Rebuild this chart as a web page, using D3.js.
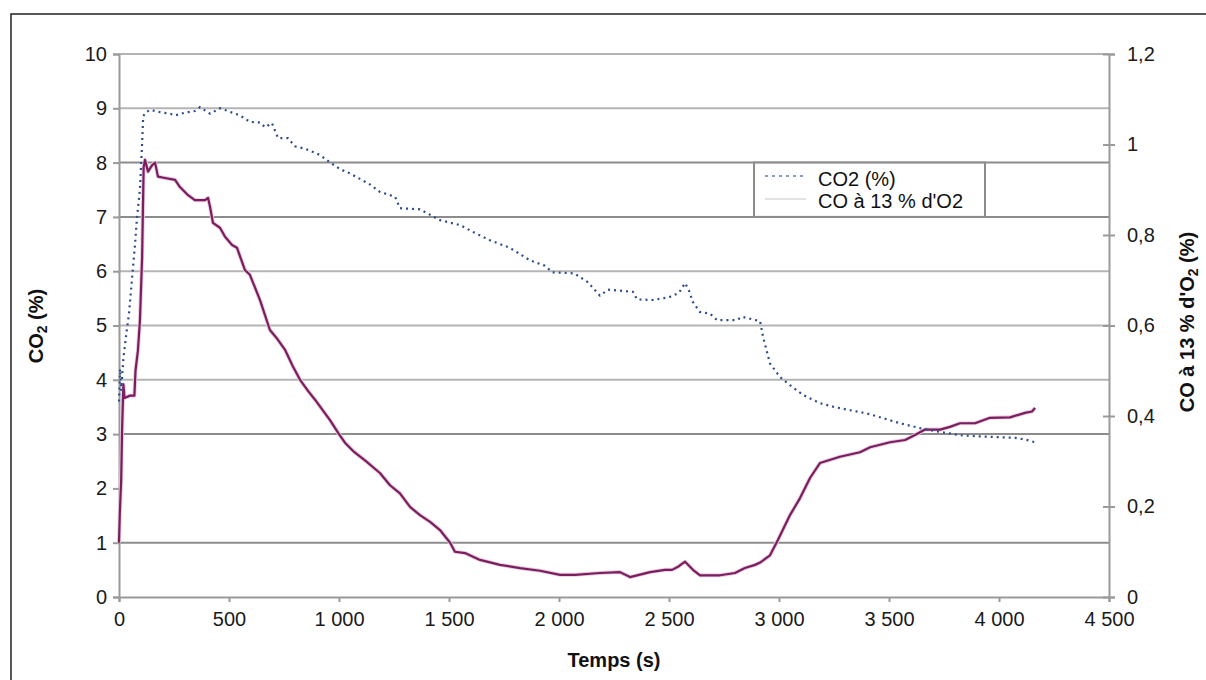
<!DOCTYPE html>
<html>
<head>
<meta charset="utf-8">
<script src="https://cdn.jsdelivr.net/npm/d3@7"></script>
<style>
  html, body { margin: 0; padding: 0; background: #fff; }
  svg { display: block; font-family: "Liberation Sans", Arial, Helvetica, sans-serif; }
</style>
</head>
<body>
<svg id="chart" width="1206" height="680"></svg>
<script>
// ---------- DATA ----------
const co2Time = [0, 5, 10, 20, 35, 45, 60, 73, 82, 95, 105, 110, 120, 141, 186, 232, 255, 300, 345, 368, 414, 459, 495, 550, 595, 641, 664, 695, 723, 768, 800, 850, 914, 960, 1005, 1050, 1095, 1140, 1186, 1255, 1277, 1368, 1459, 1550, 1620, 1686, 1777, 1868, 1936, 1970, 2070, 2130, 2186, 2223, 2336, 2355, 2427, 2500, 2545, 2573, 2590, 2609, 2640, 2686, 2718, 2809, 2832, 2914, 2927, 2959, 3005, 3050, 3110, 3186, 3250, 3323, 3400, 3459, 3550, 3641, 3732, 3823, 3900, 3959, 4073, 4120, 4164];
const co2Values = [3.6, 4.2, 3.8, 4.4, 4.9, 5.2, 5.9, 6.5, 7.0, 7.5, 8.35, 8.85, 8.92, 8.97, 8.93, 8.9, 8.87, 8.92, 8.95, 9.02, 8.9, 9.0, 8.95, 8.87, 8.75, 8.74, 8.65, 8.73, 8.45, 8.45, 8.3, 8.25, 8.14, 8.0, 7.88, 7.8, 7.7, 7.6, 7.46, 7.37, 7.16, 7.14, 6.94, 6.85, 6.7, 6.57, 6.43, 6.2, 6.1, 5.98, 5.96, 5.8, 5.55, 5.66, 5.62, 5.48, 5.47, 5.52, 5.6, 5.78, 5.65, 5.43, 5.25, 5.22, 5.1, 5.1, 5.16, 5.08, 4.8, 4.3, 4.05, 3.9, 3.72, 3.57, 3.5, 3.44, 3.38, 3.31, 3.2, 3.11, 3.04, 2.98, 2.96, 2.95, 2.93, 2.9, 2.85];

const coTime = [0, 4, 10, 14, 20, 25, 50, 70, 75, 86, 95, 105, 112, 118, 132, 150, 164, 177, 209, 255, 277, 314, 345, 391, 405, 414, 427, 459, 482, 514, 536, 573, 595, 641, 686, 720, 755, 790, 823, 860, 891, 930, 959, 1000, 1027, 1070, 1118, 1186, 1232, 1277, 1323, 1368, 1414, 1459, 1505, 1527, 1573, 1641, 1732, 1823, 1914, 2005, 2073, 2186, 2277, 2323, 2414, 2482, 2514, 2545, 2573, 2609, 2641, 2732, 2800, 2845, 2891, 2914, 2959, 2995, 3050, 3095, 3141, 3186, 3277, 3368, 3414, 3505, 3573, 3618, 3664, 3732, 3777, 3823, 3891, 3959, 4050, 4118, 4150, 4164];
const coValues = [0.12, 0.19, 0.26, 0.37, 0.47, 0.44, 0.445, 0.445, 0.50, 0.545, 0.61, 0.75, 0.95, 0.966, 0.94, 0.954, 0.96, 0.929, 0.926, 0.922, 0.906, 0.888, 0.877, 0.877, 0.882, 0.862, 0.827, 0.816, 0.796, 0.778, 0.772, 0.722, 0.712, 0.656, 0.590, 0.57, 0.546, 0.51, 0.48, 0.455, 0.436, 0.41, 0.391, 0.36, 0.341, 0.32, 0.302, 0.274, 0.247, 0.229, 0.199, 0.181, 0.166, 0.148, 0.12, 0.10, 0.097, 0.082, 0.071, 0.064, 0.058, 0.049, 0.049, 0.053, 0.055, 0.044, 0.055, 0.06, 0.06, 0.068, 0.078, 0.06, 0.048, 0.048, 0.053, 0.064, 0.071, 0.076, 0.092, 0.126, 0.181, 0.218, 0.263, 0.296, 0.31, 0.32, 0.331, 0.342, 0.347, 0.358, 0.37, 0.37, 0.376, 0.384, 0.384, 0.396, 0.397, 0.407, 0.41, 0.418];

const xTicks = [0, 500, 1000, 1500, 2000, 2500, 3000, 3500, 4000, 4500];
const leftTicks = [0, 1, 2, 3, 4, 5, 6, 7, 8, 9, 10];
const rightTicks = [0, 0.2, 0.4, 0.6, 0.8, 1, 1.2];
const gridValues = [1, 3, 4, 5, 6, 7, 8, 9, 10];
const seriesNames = ["CO2 (%)", "CO à 13 % d'O2"];

// ---------- LAYOUT ----------
const svg = d3.select("#chart");
const M = { left: 119, right: 1109, top: 54, bottom: 597 };
const locale = d3.formatLocale({ decimal: ",", thousands: " ", grouping: [3], currency: ["", ""] });

const x = d3.scaleLinear().domain([0, 4500]).range([M.left, M.right]);
const yL = d3.scaleLinear().domain([0, 10]).range([M.bottom, M.top]);
const yR = d3.scaleLinear().domain([0, 1.2]).range([M.bottom, M.top]);

// outer frame
svg.append("rect").attr("x", 11).attr("y", 14).attr("width", 1210).attr("height", 690)
  .attr("fill", "none").attr("stroke", "#222").attr("stroke-width", 1.5);

// gridlines
svg.append("g").selectAll("line").data(gridValues).join("line")
  .attr("x1", M.left).attr("x2", M.right)
  .attr("y1", d => yL(d)).attr("y2", d => yL(d))
  .attr("stroke", (d) => [1, 3, 7, 8].includes(d) ? "#8c8c8c" : "#b4b4b4")
  .attr("stroke-width", 2);

// axes
const axisColor = "#9a9a9a";
const tickFont = 20;

const gx = svg.append("g").attr("transform", `translate(0,${M.bottom})`)
  .call(d3.axisBottom(x).tickValues(xTicks).tickFormat(locale.format(",d")).tickSize(5).tickPadding(10));
const gl = svg.append("g").attr("transform", `translate(${M.left},0)`)
  .call(d3.axisLeft(yL).tickValues(leftTicks).tickFormat(d3.format("d")).tickSize(6).tickPadding(6));
const gr = svg.append("g").attr("transform", `translate(${M.right},0)`)
  .call(d3.axisRight(yR).tickValues(rightTicks).tickFormat(locale.format(".1~f")).tickSize(6).tickPadding(12));
gr.selectAll(".tick line").attr("x1", -6);

[gx, gl, gr].forEach(g => {
  g.select(".domain").attr("stroke", axisColor).attr("stroke-width", 2);
  g.selectAll(".tick line").attr("stroke", axisColor).attr("stroke-width", 2);
  g.selectAll(".tick text").attr("fill", "#1a1a1a").attr("font-size", tickFont)
    .attr("font-family", "'Liberation Sans', Arial, sans-serif");
});

// series
const coLine = d3.line().x(d => x(d[0])).y(d => yR(d[1]));
const co2Line = d3.line().x(d => x(d[0])).y(d => yL(d[1]));
const coData = coTime.map((t, i) => [t, coValues[i]]);
const co2Data = co2Time.map((t, i) => [t, co2Values[i]]);

svg.append("path").datum(coData).attr("d", coLine)
  .attr("fill", "none").attr("stroke", "#e6cddd").attr("stroke-width", 4).attr("stroke-linejoin", "round");
svg.append("path").datum(coData).attr("d", coLine)
  .attr("fill", "none").attr("stroke", "#7b1d5f").attr("stroke-width", 2.2).attr("stroke-linejoin", "round");

svg.append("path").datum(co2Data).attr("d", co2Line)
  .attr("fill", "none").attr("stroke", "#2d4c8c").attr("stroke-width", 2.2)
  .attr("stroke-dasharray", "2,4");

// legend
const lg = svg.append("g");
lg.append("rect").attr("x", 754).attr("y", yL(8)).attr("width", 231).attr("height", yL(7) - yL(8))
  .attr("fill", "#fff").attr("stroke", "#8c8c8c").attr("stroke-width", 2);
lg.append("line").attr("x1", 765).attr("x2", 806).attr("y1", 176).attr("y2", 176)
  .attr("stroke", "#8a9cc6").attr("stroke-width", 2).attr("stroke-dasharray", "3,4");
lg.append("line").attr("x1", 765).attr("x2", 806).attr("y1", 199).attr("y2", 199)
  .attr("stroke", "#d8d8d8").attr("stroke-width", 1.5);
lg.append("text").attr("x", 818).attr("y", 186).attr("font-size", 20).attr("fill", "#111").text(seriesNames[0]);
lg.append("text").attr("x", 818).attr("y", 208).attr("font-size", 20).attr("fill", "#111").text(seriesNames[1]);

// axis titles
svg.append("text").attr("x", 614).attr("y", 667).attr("text-anchor", "middle")
  .attr("font-size", 20).attr("font-weight", "bold").attr("fill", "#111").text("Temps (s)");

const lt = svg.append("text").attr("transform", `translate(43,326) rotate(-90)`)
  .attr("text-anchor", "middle").attr("font-size", 20).attr("font-weight", "bold").attr("fill", "#111");
lt.append("tspan").text("CO");
lt.append("tspan").attr("font-size", 14).attr("dy", 4).text("2");
lt.append("tspan").attr("dy", -4).text(" (%)");

const rt = svg.append("text").attr("transform", `translate(1194,322) rotate(-90)`)
  .attr("text-anchor", "middle").attr("font-size", 20).attr("font-weight", "bold").attr("fill", "#111");
rt.append("tspan").text("CO à 13 % d'O");
rt.append("tspan").attr("font-size", 14).attr("dy", 4).text("2");
rt.append("tspan").attr("dy", -4).text(" (%)");
</script>
</body>
</html>
